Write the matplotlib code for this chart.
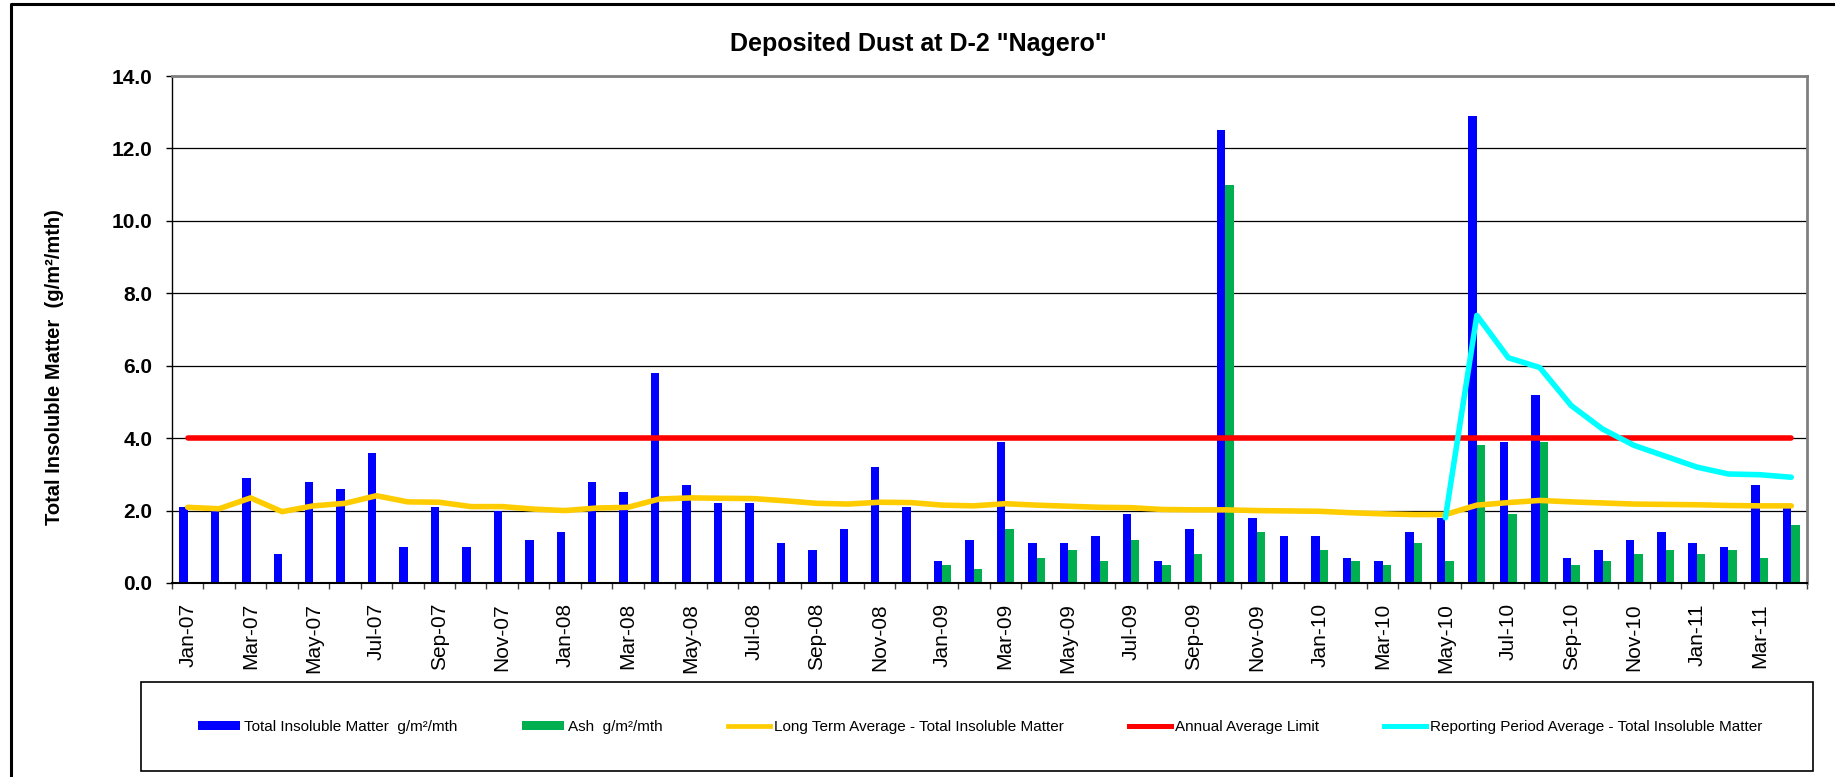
import matplotlib
matplotlib.use('Agg')
import matplotlib.pyplot as plt
import numpy as np
import pandas as pd
from matplotlib.patches import Patch, Rectangle
from matplotlib.lines import Line2D

plt.rcParams['font.family'] = ['Liberation Sans', 'DejaVu Sans']

# Monthly categories Jan-07 .. Apr-11
months = pd.date_range('2007-01-01', periods=52, freq='MS').strftime('%b-%y').tolist()

# Total insoluble matter (g/m2/mth)
total_insoluble = [
    2.1, 2.0, 2.9, 0.8, 2.8, 2.6, 3.6, 1.0, 2.1, 1.0, 2.0, 1.2,
    1.4, 2.8, 2.5, 5.8, 2.7, 2.2, 2.2, 1.1, 0.9, 1.5, 3.2, 2.1,
    0.6, 1.2, 3.9, 1.1, 1.1, 1.3, 1.9, 0.6, 1.5, 12.5, 1.8, 1.3,
    1.3, 0.7, 0.6, 1.4, 1.8, 12.9, 3.9, 5.2, 0.7, 0.9, 1.2, 1.4,
    1.1, 1.0, 2.7, 2.1,
]

# Ash (g/m2/mth) - not measured before 2009
nan = np.nan
ash = [
    nan, nan, nan, nan, nan, nan, nan, nan, nan, nan, nan, nan,
    nan, nan, nan, nan, nan, nan, nan, nan, nan, nan, nan, nan,
    0.5, 0.4, 1.5, 0.7, 0.9, 0.6, 1.2, 0.5, 0.8, 11.0, 1.4, nan,
    0.9, 0.6, 0.5, 1.1, 0.6, 3.8, 1.9, 3.9, 0.5, 0.6, 0.8, 0.9,
    0.8, 0.9, 0.7, 1.6,
]

# Long term average - total insoluble matter
long_term_avg = [
    2.09, 2.05, 2.35, 1.97, 2.13, 2.20, 2.41, 2.24, 2.23, 2.11, 2.11, 2.04,
    2.00, 2.07, 2.09, 2.32, 2.35, 2.34, 2.33, 2.27, 2.20, 2.18, 2.23, 2.22,
    2.15, 2.13, 2.19, 2.15, 2.12, 2.09, 2.08, 2.03, 2.02, 2.02, 2.00, 1.99,
    1.98, 1.94, 1.91, 1.89, 1.89, 2.15, 2.22, 2.28, 2.24, 2.21, 2.18, 2.17,
    2.16, 2.14, 2.13, 2.13,
]

annual_limit = [4.0] * 52

# Reporting period average (from May-10)
reporting_avg = [nan] * 40 + [1.8, 7.39, 6.22, 5.95, 4.90, 4.25, 3.80, 3.50, 3.20, 3.01, 2.99, 2.92]

BLUE = '#0000FF'
GREEN = '#00B050'
YELLOW = '#FFCC00'
RED = '#FF0000'
CYAN = '#00FFFF'

W, H = 1837, 777
fig = plt.figure(figsize=(W / 100, H / 100), dpi=100)
ax = fig.add_axes([172 / W, 1 - 583 / H, (1807 - 172) / W, (583 - 76) / H])

x = np.arange(len(months))
bw = 0.27
ax.bar(x - bw / 2, total_insoluble, bw, color=BLUE, zorder=2)
ax.bar(x + bw / 2, ash, bw, color=GREEN, zorder=2)
ax.plot(x, long_term_avg, color=YELLOW, lw=4, zorder=3, solid_joinstyle='round', solid_capstyle='round')
ax.plot(x, annual_limit, color=RED, lw=4, zorder=4, solid_capstyle='round')
ax.plot(x, reporting_avg, color=CYAN, lw=4, zorder=5, solid_joinstyle='round', solid_capstyle='round')

# Axes formatting
ax.set_xlim(-0.5, len(months) - 0.5)
ax.set_ylim(0, 14)
ax.set_yticks(np.arange(0, 14.1, 2))
ax.set_yticklabels([f'{v:.1f}' for v in np.arange(0, 14.1, 2)], fontsize=15, fontweight='bold')
ax.yaxis.grid(True, color='black', lw=0.9)
ax.set_axisbelow(True)

ax.set_xticks(np.arange(-0.5, len(months), 1))
ax.set_xticklabels([])
ax.set_xticks(x[::2], minor=True)
ax.set_xticklabels(months[::2], minor=True, rotation=90, fontsize=15, va='top', ha='center')
ax.tick_params(axis='x', which='major', length=4.3, width=1, direction='out', color='#404040')
ax.tick_params(axis='x', which='minor', length=0, pad=14.4)
ax.tick_params(axis='y', length=4.3, width=1, direction='out', pad=10)

for side in ['top', 'right']:
    ax.spines[side].set_color('#808080')
    ax.spines[side].set_linewidth(2)
ax.spines['left'].set_color('black')
ax.spines['left'].set_linewidth(1)
ax.spines['bottom'].set_color('black')
ax.spines['bottom'].set_linewidth(1.5)

# Titles
fig.text(0.5, 1 - 44.5 / H, 'Deposited Dust at D-2 "Nagero"', ha='center', va='center',
         fontsize=18, fontweight='bold')
fig.text(55 / W, 1 - 367 / H, 'Total Insoluble Matter  (g/m²/mth)', ha='center', va='center',
         rotation=90, fontsize=14.5, fontweight='bold')

# Legend
handles = [
    Patch(facecolor=BLUE, edgecolor='none'),
    Patch(facecolor=GREEN, edgecolor='none'),
    Line2D([], [], color=YELLOW, lw=3.4),
    Line2D([], [], color=RED, lw=3.6),
    Line2D([], [], color=CYAN, lw=3.6),
]
labels = [
    'Total Insoluble Matter  g/m²/mth',
    'Ash  g/m²/mth',
    'Long Term Average - Total Insoluble Matter',
    'Annual Average Limit',
    'Reporting Period Average - Total Insoluble Matter',
]
fig.legend(handles, labels, loc='center', bbox_to_anchor=(980 / W, 1 - 727 / H), ncol=5,
           frameon=False, fontsize=11, handlelength=2.75, handleheight=0.55,
           handletextpad=0.26, columnspacing=4.25)
fig.add_artist(Rectangle((141 / W, 1 - 771 / H), 1672 / W, 89 / H, transform=fig.transFigure,
                         fill=False, ec='black', lw=1.2))

# Outer chart frame
fig.add_artist(Line2D([11 / W, 11 / W, 1833 / W], [0, 1 - 4 / H, 1 - 4 / H],
                      transform=fig.transFigure, color='black', lw=2.2))

fig.savefig('out.png', dpi=100, facecolor='white')
